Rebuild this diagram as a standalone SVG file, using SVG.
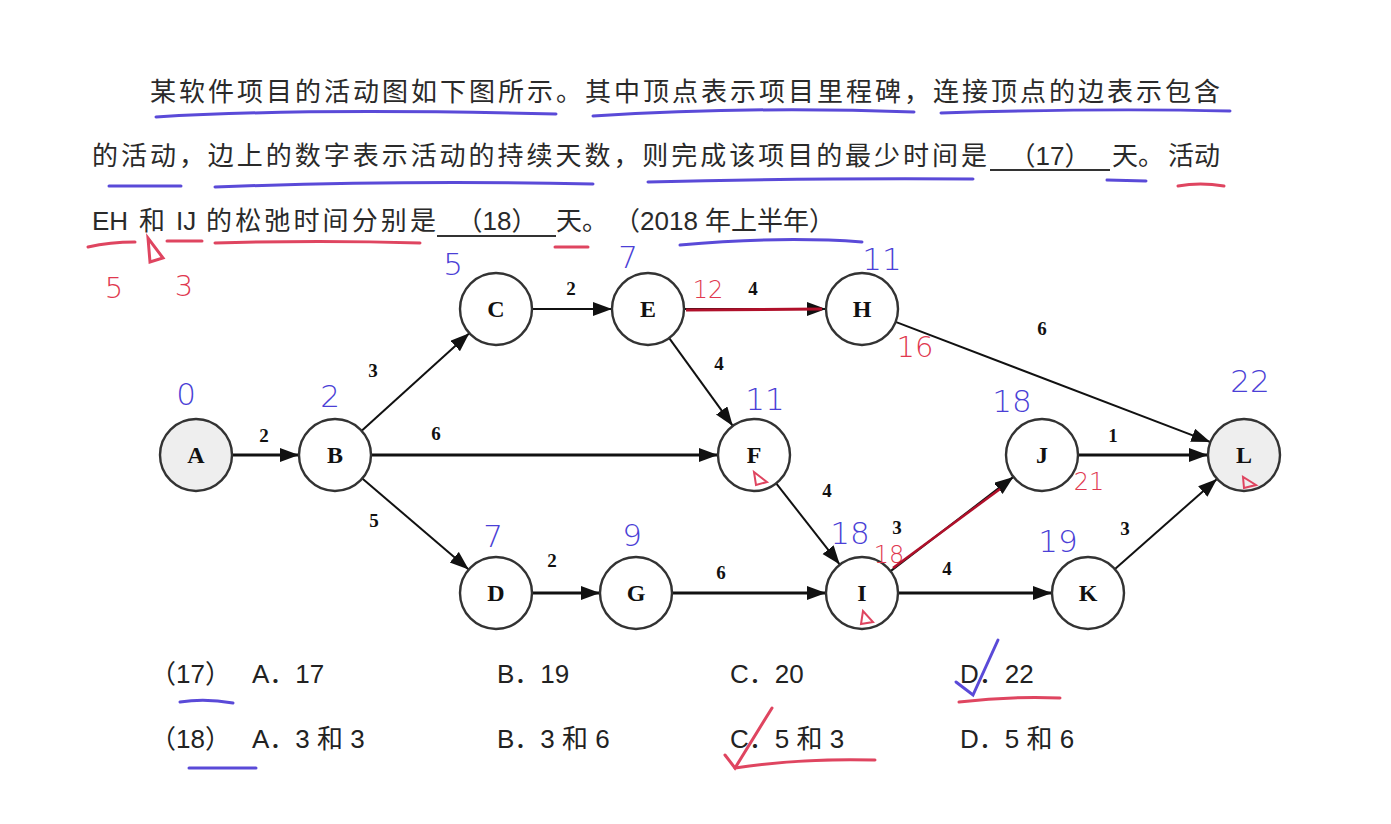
<svg xmlns="http://www.w3.org/2000/svg" width="1391" height="824" viewBox="0 0 1391 824">
<style>
.q{font-family:"Liberation Sans","Noto Sans CJK SC",sans-serif;font-size:26px;fill:#2a2a2a}
.opt{font-family:"Liberation Sans","Noto Sans CJK SC",sans-serif;font-size:26px;fill:#222}
.nd circle{fill:#fff;stroke:#333;stroke-width:2.4}
.nd.g circle{fill:#eeeeee}
.nd text{font-family:"Liberation Serif",serif;font-weight:bold;font-size:24px;fill:#111;text-anchor:middle}
.e{stroke:#111;stroke-width:2;fill:none;marker-end:url(#ah)}
.e.t{stroke-width:3}
.el{font-family:"Liberation Serif",serif;font-weight:bold;font-size:19px;fill:#111;text-anchor:middle}
.hb{font-family:"DejaVu Sans",sans-serif;font-weight:200;font-size:31px;fill:#4b3fd6;text-anchor:middle}
.hr{font-family:"DejaVu Sans",sans-serif;font-weight:200;font-size:29px;fill:#e0384f;text-anchor:middle}
.ub{stroke:#5a4ad8;stroke-width:3;fill:none;stroke-linecap:round}
.ur{stroke:#df4560;stroke-width:3;fill:none;stroke-linecap:round}
.blank{stroke:#333;stroke-width:2}
</style>
<defs>
<marker id="ah" markerUnits="userSpaceOnUse" markerWidth="22" markerHeight="16" refX="19" refY="7" orient="auto">
<path d="M0,0 L19,7 L0,14 z" fill="#111"/>
</marker>
</defs>
<rect width="1391" height="824" fill="#fff"/>

<g id="question">
<text class="q" x="150" y="101" textLength="1070" lengthAdjust="spacing">某软件项目的活动图如下图所示。其中顶点表示项目里程碑，连接顶点的边表示包含</text>
<text class="q" x="92" y="165" textLength="895" lengthAdjust="spacing">的活动，边上的数字表示活动的持续天数，则完成该项目的最少时间是</text>
<line class="blank" x1="990" y1="170" x2="1110" y2="170"/>
<text class="q" x="1050" y="165" text-anchor="middle">（17）</text>
<text class="q" x="1112" y="165">天。</text>
<text class="q" x="1168" y="165">活动</text>
<text class="q" x="92" y="230">EH</text>
<text class="q" x="139" y="230">和</text>
<text class="q" x="176" y="230">IJ</text>
<text class="q" x="206" y="230" textLength="230" lengthAdjust="spacing">的松弛时间分别是</text>
<line class="blank" x1="437" y1="236" x2="556" y2="236"/>
<text class="q" x="497" y="230" text-anchor="middle">（18）</text>
<text class="q" x="556" y="230">天。</text>
<text class="q" x="614" y="230">（2018 年上半年）</text>
</g>

<g id="connectors">
<line class="e t" x1="232" y1="455" x2="299" y2="455"/>
<line class="e" x1="361.7" y1="430.8" x2="469.3" y2="333.2"/>
<line class="e t" x1="371" y1="455" x2="718" y2="455"/>
<line class="e" x1="362.3" y1="478.4" x2="468.7" y2="569.6"/>
<line class="e" x1="532" y1="309" x2="612" y2="309"/>
<line class="e" x1="684" y1="309" x2="826" y2="309"/>
<line class="e" x1="669.2" y1="338.1" x2="732.8" y2="425.9"/>
<line class="e" x1="776.2" y1="483.4" x2="839.8" y2="564.6"/>
<line class="e" x1="895.6" y1="321.9" x2="1210.4" y2="442.1"/>
<line class="e t" x1="1078" y1="455" x2="1208" y2="455"/>
<line class="e" x1="890.6" y1="571.1" x2="1013.4" y2="476.9"/>
<line class="e t" x1="898" y1="593" x2="1052" y2="593"/>
<line class="e t" x1="532" y1="593" x2="600" y2="593"/>
<line class="e t" x1="672" y1="593" x2="826" y2="593"/>
<line class="e" x1="1115" y1="569.1" x2="1217" y2="478.9"/>
<text class="el" x="264" y="442">2</text>
<text class="el" x="373" y="377">3</text>
<text class="el" x="436" y="440">6</text>
<text class="el" x="374" y="527">5</text>
<text class="el" x="571" y="295">2</text>
<text class="el" x="552" y="567">2</text>
<text class="el" x="753" y="295">4</text>
<text class="el" x="719" y="370">4</text>
<text class="el" x="1042" y="335">6</text>
<text class="el" x="1113" y="442">1</text>
<text class="el" x="827" y="497">4</text>
<text class="el" x="897" y="534">3</text>
<text class="el" x="1125" y="535">3</text>
<text class="el" x="721" y="579">6</text>
<text class="el" x="947" y="575">4</text>
</g>

<g id="nA" class="nd g"><circle cx="196" cy="455" r="36"/><text x="196" y="463">A</text></g>
<g id="nB" class="nd"><circle cx="335" cy="455" r="36"/><text x="335" y="463">B</text></g>
<g id="nC" class="nd"><circle cx="496" cy="309" r="36"/><text x="496" y="317">C</text></g>
<g id="nE" class="nd"><circle cx="648" cy="309" r="36"/><text x="648" y="317">E</text></g>
<g id="nH" class="nd"><circle cx="862" cy="309" r="36"/><text x="862" y="317">H</text></g>
<g id="nF" class="nd"><circle cx="754" cy="455" r="36"/><text x="754" y="463">F</text></g>
<g id="nJ" class="nd"><circle cx="1042" cy="455" r="36"/><text x="1042" y="463">J</text></g>
<g id="nL" class="nd g"><circle cx="1244" cy="455" r="36"/><text x="1244" y="463">L</text></g>
<g id="nD" class="nd"><circle cx="496" cy="593" r="36"/><text x="496" y="601">D</text></g>
<g id="nG" class="nd"><circle cx="636" cy="593" r="36"/><text x="636" y="601">G</text></g>
<g id="nI" class="nd"><circle cx="862" cy="593" r="36"/><text x="862" y="601">I</text></g>
<g id="nK" class="nd"><circle cx="1088" cy="593" r="36"/><text x="1088" y="601">K</text></g>

<g id="options">
<text class="opt" x="150" y="683">（17）</text>
<text class="opt" x="252" y="683">A．17</text>
<text class="opt" x="497" y="683">B．19</text>
<text class="opt" x="730" y="683">C．20</text>
<text class="opt" x="960" y="683">D．22</text>
<text class="opt" x="150" y="748">（18）</text>
<text class="opt" x="252" y="748">A．3 和 3</text>
<text class="opt" x="497" y="748">B．3 和 6</text>
<text class="opt" x="730" y="748">C．5 和 3</text>
<text class="opt" x="960" y="748">D．5 和 6</text>
</g>

<g id="annotations">
<path class="ub" d="M156,117 Q300,108 556,114"/>
<path class="ub" d="M593,116 Q750,106 914,112"/>
<path class="ub" d="M941,113 Q1100,108 1230,111"/>
<path class="ub" d="M109,186 L181,186"/>
<path class="ub" d="M215,187 Q400,180 593,184"/>
<path class="ub" d="M648,182 Q800,178 973,179"/>
<path class="ub" d="M1107,180 L1146,181"/>
<path class="ur" d="M1178,186 Q1200,182 1224,186"/>
<path class="ur" d="M88,247 Q110,242 135,242"/>
<path class="ur" d="M167,241 L202,241"/>
<path class="ur" d="M215,243 Q320,240 420,243"/>
<path class="ur" d="M555,247 L588,247"/>
<path class="ub" d="M680,245 Q780,236 862,242"/>
<path class="ur" d="M148,238 L150,262 L163,258 Z"/>
<text class="hr" x="114" y="298">5</text>
<text class="hr" x="184" y="296">3</text>
<text class="hb" x="186" y="405">0</text>
<text class="hb" x="330" y="407">2</text>
<text class="hb" x="453" y="275">5</text>
<text class="hb" x="628" y="268">7</text>
<text class="hb" x="882" y="270">11</text>
<text class="hb" x="765" y="410">11</text>
<text class="hb" x="1012" y="412">18</text>
<text class="hb" x="1250" y="392">22</text>
<text class="hb" x="493" y="547">7</text>
<text class="hb" x="632" y="546">9</text>
<text class="hb" x="850" y="544">18</text>
<text class="hb" x="1058" y="552">19</text>
<text class="hr" x="708" y="298" style="font-size:24px">12</text>
<text class="hr" x="915" y="357">16</text>
<text class="hr" x="1089" y="490" style="font-size:24px">21</text>
<text class="hr" x="889" y="563" style="font-size:24px">18</text>
<line x1="686" y1="310" x2="822" y2="309" stroke="#b0102a" stroke-width="3"/>
<line x1="893" y1="568" x2="1000" y2="489" stroke="#b0102a" stroke-width="2.5"/>
<path class="ur" d="M754,472 L756,485 L767,482 Z" style="stroke-width:2"/>
<path class="ur" d="M863,611 L861,624 L873,622 Z" style="stroke-width:2"/>
<path class="ur" d="M1243,477 L1244,488 L1256,485 Z" style="stroke-width:2"/>
<path class="ub" d="M956,682 L973,695 L998,640"/>
<path class="ur" d="M959,702 Q1010,696 1060,698"/>
<path class="ur" d="M725,755 L735,768 L772,708"/>
<path class="ur" d="M735,768 Q800,758 875,760"/>
<path class="ub" d="M180,702 Q205,698 233,703"/>
<path class="ub" d="M189,768 L256,768"/>
</g>
</svg>
